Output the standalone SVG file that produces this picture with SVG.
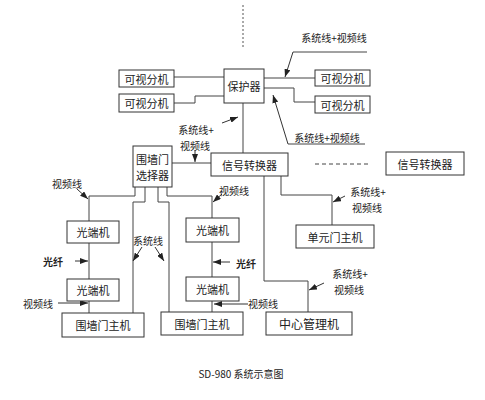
<svg xmlns="http://www.w3.org/2000/svg" width="485" height="400" viewBox="0 0 485 400">
<style>
.box{fill:#fff;stroke:#333;stroke-width:1}
.ln{fill:none;stroke:#444;stroke-width:1}
.ar{fill:none;stroke:#333;stroke-width:1;marker-end:url(#ah)}
text{font-family:"Noto Sans CJK SC","Noto Sans",sans-serif;fill:#222;text-anchor:middle;dominant-baseline:central}
.t{font-size:11px}
.s{font-size:10px}
.b{font-size:10px;font-weight:bold}
</style>
<defs>
<marker id="ah" viewBox="0 0 8 6" markerWidth="8" markerHeight="6" refX="8" refY="3" orient="auto" markerUnits="userSpaceOnUse">
<path d="M0,0 L8,3 L0,6 z" fill="#222"/>
</marker>
</defs>
<rect width="485" height="400" fill="#fff"/>

<g id="connectors">
<line x1="243" y1="5" x2="243" y2="47" stroke="#555" stroke-width="1" stroke-dasharray="2,2"/>
<path class="ln" d="M174,77 H224"/>
<path class="ln" d="M174,103 H195 V96 H224"/>
<path class="ln" d="M264,78 H315"/>
<path class="ln" d="M264,88 H294 V102 H315"/>
<path class="ln" d="M243,103 V153"/>
<path class="ln" d="M172,163 H211"/>
<path class="ln" d="M264,176 V281 H308 V312"/>
<path class="ln" d="M281,176 V195 H332 V225"/>
<line x1="315" y1="164" x2="370" y2="164" stroke="#444" stroke-width="1" stroke-dasharray="4,3"/>
<path class="ln" d="M135,187 V196 H89 V222"/>
<path class="ln" d="M89,243 V279"/>
<path class="ln" d="M89,301 V313"/>
<path class="ln" d="M145,187 V202 H133 V313"/>
<path class="ln" d="M158,187 V202 H169 V312"/>
<path class="ln" d="M167,187 V196 H212 V218"/>
<path class="ln" d="M212,242 V277"/>
<path class="ln" d="M212,301 V312"/>
<path class="ln" d="M367,52 H293"/>
<path class="ar" d="M293,52 L285,77"/>
<path class="ln" d="M365,144 H288"/>
<path class="ar" d="M288,144 L273,95"/>
<path class="ar" d="M222,123 L238,117"/>
<path class="ar" d="M195,150 L195,162"/>
<path class="ar" d="M77,189 L88,199"/>
<path class="ar" d="M75,261 L88,261"/>
<path class="ar" d="M142,247 L133,261"/>
<path class="ar" d="M155,247 L164,261"/>
<path class="ar" d="M58,303 L88,303"/>
<path class="ar" d="M222,194 L213,202"/>
<path class="ar" d="M230,262 L213,262"/>
<path class="ar" d="M248,304 L214,304"/>
<path class="ar" d="M345,196 L333,202"/>
<path class="ar" d="M324,283 L309,290"/>
</g>

<g id="protector"><rect class="box" x="224" y="69" width="40" height="34"/><text class="t" x="244" y="86">保护器</text></g>
<g id="ext1"><rect class="box" x="119" y="70" width="55" height="17"/><text class="t" x="146.5" y="78.5">可视分机</text></g>
<g id="ext2"><rect class="box" x="119" y="94" width="55" height="18"/><text class="t" x="146.5" y="103">可视分机</text></g>
<g id="ext3"><rect class="box" x="315" y="70" width="55" height="16"/><text class="t" x="342.5" y="78">可视分机</text></g>
<g id="ext4"><rect class="box" x="315" y="96" width="55" height="17"/><text class="t" x="342.5" y="104.5">可视分机</text></g>
<g id="selector"><rect class="box" x="133" y="146" width="39" height="41"/><text class="t" x="152.5" y="159">围墙门</text><text class="t" x="152.5" y="175">选择器</text></g>
<g id="converter1"><rect class="box" x="211" y="153" width="77" height="23"/><text class="t" x="249.5" y="164.5">信号转换器</text></g>
<g id="converter2"><rect class="box" x="386" y="152" width="78" height="23"/><text class="t" x="425" y="163.5">信号转换器</text></g>
<g id="unit"><rect class="box" x="296" y="225" width="78" height="23"/><text class="t" x="335" y="236.5">单元门主机</text></g>
<g id="center"><rect class="box" x="266" y="312" width="86" height="23"/><text x="309" y="323.5" font-size="12">中心管理机</text></g>
<g id="ot1"><rect class="box" x="67" y="221" width="52" height="22"/><text class="t" x="93" y="232">光端机</text></g>
<g id="ot2"><rect class="box" x="67" y="279" width="52" height="22"/><text class="t" x="93" y="290">光端机</text></g>
<g id="ot3"><rect class="box" x="186" y="218" width="53" height="24"/><text class="t" x="212.5" y="230">光端机</text></g>
<g id="ot4"><rect class="box" x="186" y="277" width="53" height="24"/><text class="t" x="212.5" y="289">光端机</text></g>
<g id="gate1"><rect class="box" x="62" y="313" width="82" height="24"/><text class="t" x="103" y="325">围墙门主机</text></g>
<g id="gate2"><rect class="box" x="161" y="312" width="82" height="23"/><text class="t" x="202" y="323.5">围墙门主机</text></g>

<g id="labels">
<text class="s" x="334" y="37">系统线+视频线</text>
<text class="s" x="327" y="137">系统线+视频线</text>
<text class="s" x="196" y="129">系统线+</text>
<text class="s" x="195" y="145">视频线</text>
<text class="s" x="67" y="183">视频线</text>
<text class="b" x="53" y="261">光纤</text>
<text class="s" x="148" y="240">系统线</text>
<text class="s" x="38" y="303">视频线</text>
<text class="s" x="234" y="190">视频线</text>
<text class="b" x="246" y="263">光纤</text>
<text class="s" x="263" y="303">视频线</text>
<text class="s" x="368" y="191">系统线+</text>
<text class="s" x="367" y="207">视频线</text>
<text class="s" x="350" y="273">系统线+</text>
<text class="s" x="349" y="289">视频线</text>
<text class="s" x="241" y="373">SD-980 系统示意图</text>
</g>
</svg>
